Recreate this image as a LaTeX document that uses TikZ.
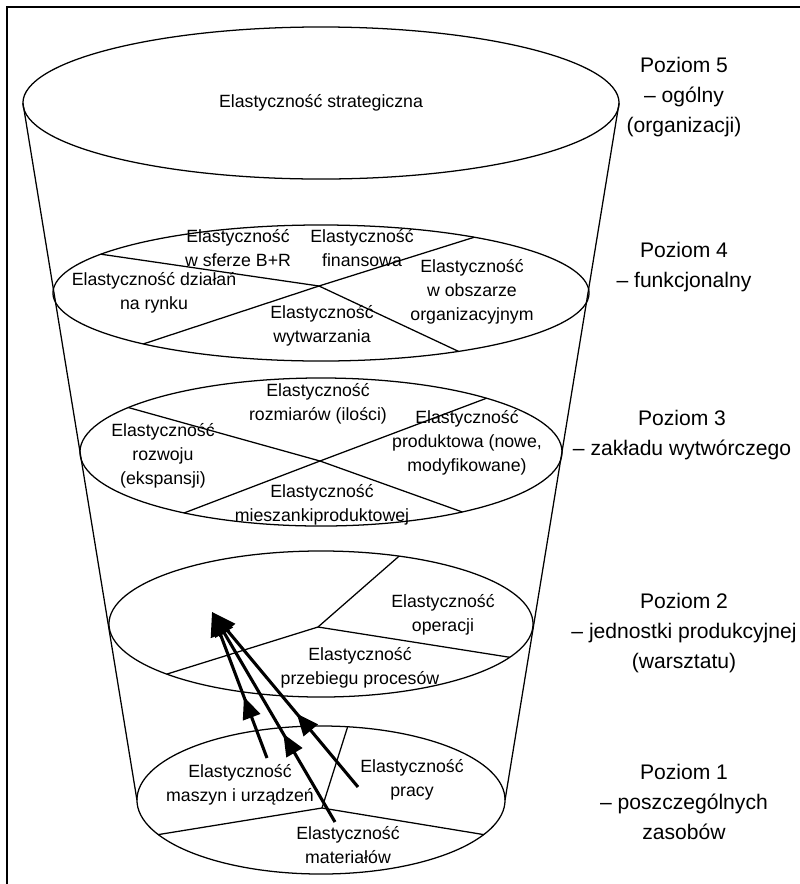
\documentclass[tikz,border=0pt]{standalone}
\usepackage{fontspec}
\setmainfont{Liberation Sans}
\usetikzlibrary{shapes.geometric, arrows.meta, decorations.markings}

\begin{document}
\begin{tikzpicture}[
    x=0.025cm, y=-0.025cm,
    level/.style={draw, ellipse, line width=0.9pt, inner sep=0pt, outer sep=0pt},
    part/.style={line width=0.9pt},
    txt/.style={align=center, font=\fontsize{12.6}{17}\selectfont, inner sep=0pt},
    tag/.style={align=center, font=\fontsize{15}{21.5}\selectfont, inner sep=0pt},
    flow/.style={line width=2.2pt, -{Triangle[length=6mm,width=5mm]},
        postaction={decorate, decoration={markings,
            mark=at position 0.42 with {\arrow{Triangle[length=5.5mm,width=4.5mm]}}}}}
]
    \useasboundingbox (0,0) rectangle (800,884);

    % Frame (top and left only)
    \draw[line width=0.9pt] (800,7) -- (7,7) -- (7,884);

    % Levels of the funnel
    \foreach \n/\y/\w/\h in {5/103/14.9/3.8, 4/293/13.4/3.4, 3/452/12.05/3.7, 2/624/10.6/3.65, 1/800/9.2/3.7}
        \node[level, minimum width=\w cm, minimum height=\h cm] (lev\n) at (321,\y) {};

    % Sides of the funnel
    \draw[part] (lev5.west) -- (lev1.west);
    \draw[part] (lev5.east) -- (lev1.east);

    % Divisions inside the levels
    \coordinate (j4) at (319,286);
    \foreach \a in {170,20,-23,196}
        \draw[part] (j4) -- (lev4.\a);
    \coordinate (j3) at (320,461);
    \foreach \a in {167,18,-23,204}
        \draw[part] (j3) -- (lev3.\a);
    \coordinate (j2) at (318,627);
    \foreach \a in {41,198,-10}
        \draw[part] (j2) -- (lev2.\a);
    \coordinate (j1) at (322,808);
    \foreach \a in {70,192,-12}
        \draw[part] (j1) -- (lev1.\a);

    % Level 5
    \node[txt] (strat) at (lev5) {Elastyczność strategiczna};

    % Level 4
    \node[txt] (br) at (238,248) {Elastyczność\\w sferze B+R};
    \node[txt] (fin) at (362,248) {Elastyczność\\finansowa};
    \node[txt] (rynek) at (154,293) {Elastyczność działań\\na rynku};
    \node[txt] (org) at (472,292) {Elastyczność\\w obszarze\\organizacyjnym};
    \node[txt] (wytw) at (322,326) {Elastyczność\\wytwarzania};

    % Level 3
    \node[txt] (rozm) at (318,404) {Elastyczność\\rozmiarów (ilości)};
    \node[txt] (rozw) at (163,456) {Elastyczność\\rozwoju\\(ekspansji)};
    \node[txt] (prod) at (467,443) {Elastyczność\\produktowa (nowe,\\modyfikowane)};
    \node[txt] (miesz) at (322,505) {Elastyczność\\mieszankiproduktowej};

    % Level 2
    \node[txt] (oper) at (443,615) {Elastyczność\\operacji};
    \node[txt] (proc) at (360,668) {Elastyczność\\przebiegu procesów};

    % Level 1
    \node[txt] (masz) at (240,785) {Elastyczność\\maszyn i urządzeń};
    \node[txt] (praca) at (412,780) {Elastyczność\\pracy};
    \node[txt] (mat) at (348,845) {Elastyczność\\materiałów};

    % Names of the levels
    \node[tag] (tag5) at (684,97) {Poziom 5\\– ogólny\\(organizacji)};
    \node[tag] (tag4) at (684,267) {Poziom 4\\– funkcjonalny};
    \node[tag] (tag3) at (682,435) {Poziom 3\\– zakładu wytwórczego};
    \node[tag] (tag2) at (684,633) {Poziom 2\\– jednostki produkcyjnej\\(warsztatu)};
    \node[tag] (tag1) at (684,802) {Poziom 1\\– poszczególnych\\zasobów};

    % Arrows from level 1 to level 2
    \coordinate (tip) at (212,612);
    \coordinate (s1) at (267,758);
    \coordinate (s2) at (335,822);
    \coordinate (s3) at (358,787);
    \foreach \s in {s1,s2,s3}
        \draw[flow] (\s) -- (tip);
\end{tikzpicture}
\end{document}
